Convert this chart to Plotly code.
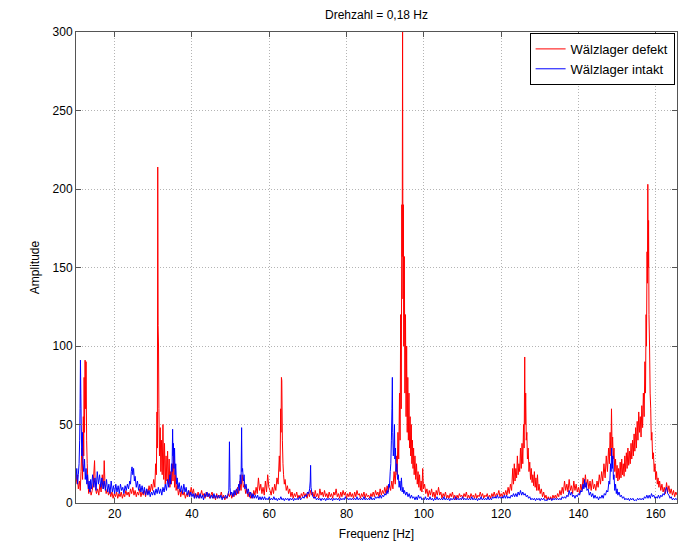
import plotly.graph_objects as go

# ---- data ----
title_text = "Drehzahl = 0,18 Hz"
x_label = "Frequenz [Hz]"
y_label = "Amplitude"
series_names = ["Wälzlager defekt", "Wälzlager intakt"]
x_ticks = [20, 40, 60, 80, 100, 120, 140, 160]
y_ticks = [0, 50, 100, 150, 200, 250, 300]

# (frequency [Hz], amplitude) for "Wälzlager defekt"
defekt_points = [
    (10.0, 12), (10.3, 18), (10.6, 9), (10.9, 14), (11.1, 8), (11.3, 20), (11.5, 35), (11.7, 15),
    (11.9, 55), (12.0, 30), (12.1, 80), (12.2, 45), (12.35, 91), (12.5, 60), (12.6, 90), (12.75, 40),
    (12.9, 25), (13.1, 12), (13.3, 6), (13.6, 10), (13.9, 5), (14.2, 8), (14.5, 14), (14.8, 27),
    (15.0, 10), (15.3, 6), (15.6, 9), (15.9, 5), (16.2, 12), (16.5, 7), (16.8, 18), (17.1, 9),
    (17.3, 27), (17.5, 12), (17.8, 6), (18.1, 9), (18.4, 5), (18.7, 8), (19.0, 4), (19.3, 7),
    (19.6, 3), (19.9, 6), (20.2, 4), (20.5, 7), (20.8, 3), (21.1, 6), (21.4, 4), (21.7, 7),
    (22.0, 3), (22.3, 6), (22.6, 4), (22.9, 8), (23.2, 5), (23.5, 7), (23.8, 4), (24.1, 9),
    (24.4, 6), (24.7, 10), (25.0, 5), (25.3, 8), (25.6, 4), (25.9, 7), (26.2, 5), (26.5, 9),
    (26.8, 4), (27.1, 7), (27.4, 5), (27.7, 8), (28.0, 4), (28.3, 9), (28.6, 6), (28.9, 11),
    (29.2, 7), (29.5, 12), (29.8, 8), (30.1, 15), (30.4, 10), (30.6, 25), (30.8, 18), (30.95, 58),
    (31.05, 35), (31.15, 214), (31.25, 113), (31.35, 100), (31.45, 60), (31.6, 30), (31.8, 48), (31.95, 20),
    (32.1, 40), (32.3, 18), (32.5, 50), (32.7, 15), (32.9, 38), (33.1, 12), (33.3, 30), (33.5, 14),
    (33.7, 33), (33.9, 12), (34.1, 28), (34.3, 10), (34.5, 20), (34.7, 12), (34.9, 25), (35.1, 14),
    (35.3, 30), (35.5, 10), (35.7, 18), (35.9, 8), (36.2, 12), (36.5, 5), (36.8, 9), (37.1, 4),
    (37.4, 8), (37.7, 5), (38.0, 7), (38.3, 3), (38.6, 6), (38.9, 4), (39.2, 8), (39.5, 5),
    (39.8, 10), (40.1, 6), (40.4, 9), (40.7, 3), (41.0, 6), (41.3, 4), (41.6, 7), (41.9, 3),
    (42.2, 5), (42.5, 8), (42.8, 4), (43.1, 6), (43.4, 3), (43.7, 7), (44.0, 4), (44.3, 6),
    (44.6, 3), (44.9, 5), (45.2, 7), (45.5, 3), (45.8, 5), (46.1, 2), (46.4, 6), (46.7, 3),
    (47.0, 5), (47.3, 4), (47.6, 7), (47.9, 3), (48.2, 5), (48.5, 2), (48.8, 4), (49.1, 3),
    (49.4, 6), (49.7, 4), (50.0, 7), (50.3, 3), (50.6, 6), (50.9, 4), (51.2, 8), (51.5, 5),
    (51.8, 10), (52.1, 6), (52.4, 14), (52.7, 8), (53.0, 18), (53.3, 10), (53.6, 12), (53.9, 6),
    (54.2, 9), (54.5, 4), (54.8, 7), (55.1, 3), (55.4, 6), (55.7, 3), (56.0, 8), (56.3, 5),
    (56.6, 10), (56.9, 6), (57.2, 16), (57.5, 8), (57.8, 12), (58.1, 6), (58.4, 10), (58.7, 5),
    (59.0, 14), (59.3, 7), (59.6, 18), (59.9, 10), (60.2, 8), (60.5, 5), (60.8, 10), (61.1, 6),
    (61.4, 12), (61.7, 8), (62.0, 16), (62.3, 12), (62.6, 30), (62.8, 20), (62.95, 60), (63.05, 45),
    (63.15, 80), (63.25, 78), (63.4, 40), (63.55, 25), (63.7, 18), (63.9, 12), (64.1, 15), (64.4, 8),
    (64.7, 11), (65.0, 6), (65.3, 9), (65.6, 4), (65.9, 7), (66.2, 3), (66.5, 6), (66.8, 4),
    (67.1, 7), (67.4, 3), (67.7, 5), (68.0, 3), (68.3, 6), (68.6, 4), (68.9, 7), (69.2, 4),
    (69.5, 6), (69.8, 3), (70.1, 7), (70.4, 4), (70.7, 8), (71.0, 5), (71.3, 7), (71.6, 3),
    (71.9, 8), (72.2, 4), (72.5, 6), (72.8, 3), (73.1, 9), (73.4, 5), (73.7, 7), (74.0, 4),
    (74.3, 8), (74.6, 4), (74.9, 6), (75.2, 3), (75.5, 7), (75.8, 4), (76.1, 6), (76.4, 3),
    (76.7, 7), (77.0, 5), (77.3, 9), (77.6, 4), (77.9, 6), (78.2, 3), (78.5, 7), (78.8, 4),
    (79.1, 8), (79.4, 5), (79.7, 7), (80.0, 3), (80.3, 6), (80.6, 4), (80.9, 7), (81.2, 4),
    (81.5, 6), (81.8, 3), (82.1, 7), (82.4, 4), (82.7, 8), (83.0, 5), (83.3, 6), (83.6, 3),
    (83.9, 6), (84.2, 4), (84.5, 7), (84.8, 3), (85.1, 6), (85.4, 4), (85.7, 5), (86.0, 3),
    (86.3, 6), (86.6, 4), (86.9, 7), (87.2, 4), (87.5, 8), (87.8, 5), (88.1, 7), (88.4, 4),
    (88.7, 9), (89.0, 5), (89.3, 8), (89.6, 6), (89.9, 10), (90.2, 6), (90.5, 11), (90.8, 7),
    (91.1, 12), (91.4, 8), (91.7, 14), (92.0, 9), (92.3, 20), (92.6, 12), (92.9, 30), (93.1, 18),
    (93.3, 45), (93.5, 28), (93.7, 70), (93.85, 40), (94.0, 120), (94.15, 60), (94.3, 190), (94.4, 157),
    (94.5, 300), (94.6, 130), (94.7, 190), (94.8, 100), (94.95, 157), (95.1, 70), (95.25, 120), (95.4, 55),
    (95.55, 100), (95.7, 45), (95.85, 80), (96.0, 40), (96.15, 70), (96.3, 35), (96.45, 55), (96.6, 30),
    (96.75, 50), (96.9, 25), (97.05, 40), (97.2, 22), (97.35, 35), (97.5, 18), (97.7, 30), (97.9, 15),
    (98.1, 25), (98.3, 12), (98.5, 20), (98.7, 10), (98.9, 18), (99.1, 8), (99.3, 14), (99.5, 7),
    (99.7, 22), (99.9, 9), (100.2, 12), (100.5, 6), (100.8, 9), (101.1, 4), (101.4, 8), (101.7, 5),
    (102.0, 9), (102.3, 4), (102.6, 7), (102.9, 3), (103.2, 8), (103.5, 5), (103.8, 10), (104.1, 5),
    (104.4, 7), (104.7, 3), (105.0, 6), (105.3, 4), (105.6, 7), (105.9, 3), (106.2, 5), (106.5, 3),
    (106.8, 6), (107.1, 4), (107.4, 7), (107.7, 3), (108.0, 5), (108.3, 2), (108.6, 5), (108.9, 3),
    (109.2, 6), (109.5, 4), (109.8, 5), (110.1, 3), (110.4, 6), (110.7, 4), (111.0, 7), (111.3, 3),
    (111.6, 5), (111.9, 3), (112.2, 6), (112.5, 4), (112.8, 5), (113.1, 3), (113.4, 6), (113.7, 3),
    (114.0, 5), (114.3, 4), (114.6, 7), (114.9, 4), (115.2, 6), (115.5, 3), (115.8, 5), (116.1, 4),
    (116.4, 6), (116.7, 3), (117.0, 5), (117.3, 3), (117.6, 6), (117.9, 4), (118.2, 7), (118.5, 4),
    (118.8, 6), (119.1, 5), (119.4, 8), (119.7, 4), (120.0, 6), (120.3, 4), (120.6, 7), (120.9, 5),
    (121.2, 8), (121.5, 5), (121.8, 10), (122.1, 6), (122.4, 12), (122.7, 8), (123.0, 22), (123.2, 12),
    (123.4, 25), (123.6, 14), (123.8, 22), (124.0, 16), (124.2, 30), (124.4, 18), (124.6, 25), (124.8, 20),
    (125.0, 35), (125.2, 22), (125.4, 38), (125.6, 25), (125.8, 50), (125.95, 35), (126.1, 93), (126.2, 50),
    (126.35, 70), (126.5, 40), (126.65, 45), (126.8, 28), (127.0, 35), (127.2, 20), (127.4, 26), (127.6, 15),
    (127.8, 22), (128.0, 13), (128.2, 18), (128.4, 11), (128.6, 20), (128.8, 10), (129.0, 16), (129.2, 8),
    (129.4, 18), (129.6, 8), (129.8, 12), (130.1, 6), (130.4, 9), (130.7, 4), (131.0, 7), (131.3, 3),
    (131.6, 5), (131.9, 2), (132.2, 4), (132.5, 2), (132.8, 4), (133.1, 2), (133.4, 5), (133.7, 3),
    (134.0, 5), (134.3, 3), (134.6, 6), (134.9, 4), (135.2, 8), (135.5, 5), (135.8, 10), (136.1, 6),
    (136.4, 14), (136.7, 8), (137.0, 12), (137.3, 7), (137.6, 15), (137.9, 8), (138.2, 11), (138.5, 6),
    (138.8, 14), (139.1, 8), (139.4, 12), (139.7, 7), (140.0, 10), (140.3, 6), (140.6, 12), (140.9, 8),
    (141.2, 16), (141.5, 10), (141.8, 18), (142.1, 10), (142.4, 15), (142.7, 9), (143.0, 14), (143.3, 8),
    (143.6, 15), (143.9, 9), (144.2, 12), (144.5, 8), (144.8, 14), (145.1, 10), (145.4, 18), (145.7, 12),
    (146.0, 20), (146.3, 14), (146.6, 25), (146.9, 16), (147.2, 30), (147.5, 20), (147.8, 35), (148.0, 25),
    (148.2, 45), (148.4, 30), (148.55, 60), (148.7, 35), (148.85, 42), (149.0, 28), (149.2, 35), (149.4, 20),
    (149.6, 28), (149.8, 16), (150.0, 24), (150.2, 14), (150.4, 22), (150.6, 15), (150.8, 26), (151.0, 16),
    (151.2, 28), (151.4, 18), (151.6, 25), (151.8, 17), (152.0, 30), (152.2, 20), (152.4, 32), (152.6, 22),
    (152.8, 35), (153.0, 24), (153.2, 33), (153.4, 25), (153.6, 38), (153.8, 28), (154.0, 40), (154.2, 30),
    (154.4, 44), (154.6, 33), (154.8, 48), (155.0, 35), (155.2, 52), (155.4, 40), (155.6, 58), (155.8, 45),
    (156.0, 55), (156.2, 42), (156.4, 62), (156.6, 48), (156.8, 70), (157.0, 55), (157.2, 90), (157.35, 70),
    (157.5, 120), (157.6, 100), (157.75, 160), (157.85, 140), (157.95, 203), (158.05, 150), (158.15, 180), (158.25, 120),
    (158.4, 100), (158.55, 70), (158.7, 60), (158.85, 40), (159.0, 45), (159.2, 28), (159.4, 32), (159.6, 20),
    (159.8, 25), (160.0, 15), (160.2, 20), (160.4, 12), (160.6, 16), (160.8, 10), (161.0, 14), (161.3, 8),
    (161.6, 12), (161.9, 7), (162.2, 10), (162.5, 6), (162.8, 13), (163.1, 7), (163.4, 11), (163.7, 6),
    (164.0, 9), (164.3, 5), (164.6, 8), (164.9, 4), (165.2, 7), (165.5, 5),
]

# (frequency [Hz], amplitude) for "Wälzlager intakt"
intakt_points = [
    (10.0, 15), (10.2, 22), (10.4, 12), (10.6, 18), (10.8, 25), (10.95, 40), (11.05, 60), (11.15, 91),
    (11.25, 70), (11.35, 50), (11.5, 30), (11.65, 45), (11.8, 25), (12.0, 20), (12.2, 28), (12.4, 15),
    (12.6, 22), (12.8, 12), (13.0, 18), (13.2, 9), (13.4, 14), (13.6, 7), (13.8, 15), (14.0, 9),
    (14.3, 18), (14.6, 10), (14.9, 16), (15.2, 8), (15.5, 20), (15.8, 12), (16.1, 18), (16.4, 10),
    (16.7, 16), (17.0, 9), (17.3, 14), (17.6, 8), (17.9, 15), (18.2, 7), (18.5, 12), (18.8, 6),
    (19.1, 14), (19.4, 7), (19.7, 11), (20.0, 6), (20.3, 12), (20.6, 7), (20.9, 11), (21.2, 6),
    (21.5, 12), (21.8, 8), (22.1, 10), (22.4, 6), (22.7, 11), (23.0, 8), (23.3, 12), (23.6, 9),
    (23.9, 14), (24.1, 12), (24.3, 20), (24.5, 23), (24.7, 18), (24.9, 22), (25.1, 14), (25.3, 17),
    (25.6, 10), (25.9, 14), (26.2, 8), (26.5, 12), (26.8, 7), (27.1, 11), (27.4, 6), (27.7, 10),
    (28.0, 5), (28.3, 9), (28.6, 5), (28.9, 8), (29.2, 4), (29.5, 7), (29.8, 5), (30.1, 8),
    (30.4, 5), (30.7, 9), (31.0, 6), (31.3, 10), (31.6, 6), (31.9, 9), (32.2, 5), (32.5, 10),
    (32.8, 7), (33.1, 12), (33.4, 8), (33.7, 15), (34.0, 10), (34.3, 18), (34.5, 12), (34.7, 25),
    (34.85, 20), (35.0, 47), (35.1, 30), (35.2, 38), (35.35, 22), (35.5, 35), (35.65, 18), (35.8, 25),
    (36.0, 12), (36.2, 16), (36.4, 9), (36.7, 13), (37.0, 7), (37.3, 11), (37.6, 6), (37.9, 12),
    (38.2, 7), (38.5, 10), (38.8, 5), (39.1, 8), (39.4, 4), (39.7, 7), (40.0, 4), (40.3, 6),
    (40.6, 3), (40.9, 6), (41.2, 3), (41.5, 5), (41.8, 3), (42.1, 6), (42.4, 3), (42.7, 5),
    (43.0, 2), (43.3, 6), (43.6, 4), (43.9, 7), (44.2, 4), (44.5, 6), (44.8, 3), (45.1, 5),
    (45.4, 3), (45.7, 6), (46.0, 3), (46.3, 5), (46.6, 3), (46.9, 5), (47.2, 3), (47.5, 5),
    (47.8, 2), (48.1, 4), (48.4, 3), (48.7, 5), (49.0, 3), (49.3, 5), (49.55, 8), (49.7, 39),
    (49.85, 10), (50.0, 5), (50.3, 7), (50.6, 4), (50.9, 8), (51.2, 5), (51.5, 9), (51.8, 6),
    (52.1, 12), (52.3, 8), (52.5, 18), (52.7, 12), (52.85, 48), (52.95, 20), (53.1, 22), (53.3, 14),
    (53.5, 18), (53.7, 9), (54.0, 12), (54.3, 6), (54.6, 9), (54.9, 4), (55.2, 7), (55.5, 3),
    (55.8, 6), (56.1, 3), (56.4, 5), (56.7, 3), (57.0, 5), (57.3, 2), (57.6, 4), (57.9, 2),
    (58.2, 4), (58.5, 2), (58.8, 4), (59.1, 2), (59.4, 3), (59.7, 2), (60.0, 4), (60.3, 2),
    (60.6, 3), (60.9, 2), (61.2, 4), (61.5, 2), (61.8, 3), (62.1, 1.5), (62.4, 3), (62.7, 2),
    (63.0, 4), (63.3, 2), (63.6, 3), (63.9, 1.5), (64.2, 3), (64.5, 2), (64.8, 3), (65.1, 1.5),
    (65.4, 3), (65.7, 2), (66.0, 3), (66.3, 1.5), (66.6, 3), (66.9, 2), (67.2, 3), (67.5, 2),
    (67.8, 4), (68.1, 2), (68.4, 3), (68.7, 4), (69.0, 3), (69.3, 5), (69.6, 4), (69.9, 7),
    (70.2, 6), (70.45, 9), (70.6, 14), (70.7, 24), (70.8, 10), (71.0, 7), (71.3, 4), (71.6, 3),
    (71.9, 4), (72.2, 2), (72.5, 3), (72.8, 2), (73.1, 3), (73.4, 1.5), (73.7, 3), (74.0, 2),
    (74.3, 3), (74.6, 1.5), (74.9, 3), (75.2, 2), (75.5, 3), (75.8, 2), (76.1, 3), (76.4, 1.5),
    (76.7, 3), (77.0, 2), (77.3, 3), (77.6, 2), (77.9, 3), (78.2, 1.5), (78.5, 3), (78.8, 2),
    (79.1, 3), (79.4, 2), (79.7, 4), (80.0, 2), (80.3, 3), (80.6, 2), (80.9, 3), (81.2, 2),
    (81.5, 3), (81.8, 2), (82.1, 3), (82.4, 2), (82.7, 4), (83.0, 2), (83.3, 3), (83.6, 2),
    (83.9, 3), (84.2, 2), (84.5, 4), (84.8, 2), (85.1, 3), (85.4, 2), (85.7, 3), (86.0, 2),
    (86.3, 4), (86.6, 2), (86.9, 3), (87.2, 2), (87.5, 4), (87.8, 3), (88.1, 4), (88.4, 3),
    (88.7, 5), (89.0, 3), (89.3, 5), (89.6, 4), (89.9, 6), (90.2, 5), (90.5, 8), (90.7, 6),
    (90.9, 12), (91.1, 10), (91.3, 20), (91.45, 25), (91.6, 40), (91.75, 60), (91.85, 80), (91.95, 45),
    (92.1, 30), (92.25, 35), (92.4, 50), (92.5, 28), (92.65, 35), (92.8, 20), (93.0, 25), (93.2, 15),
    (93.4, 18), (93.6, 10), (93.8, 14), (94.0, 8), (94.2, 16), (94.4, 7), (94.6, 10), (94.8, 6),
    (95.0, 8), (95.3, 5), (95.6, 7), (95.9, 4), (96.2, 6), (96.5, 3), (96.8, 5), (97.1, 3),
    (97.4, 4), (97.7, 2), (98.0, 4), (98.3, 2), (98.6, 5), (98.9, 3), (99.2, 4), (99.5, 2),
    (99.8, 3), (100.1, 2), (100.4, 4), (100.7, 2), (101.0, 3), (101.3, 2), (101.6, 4), (101.9, 2),
    (102.2, 3), (102.5, 1.5), (102.8, 3), (103.1, 2), (103.4, 4), (103.7, 2), (104.0, 3), (104.3, 2),
    (104.6, 3), (104.9, 2), (105.2, 4), (105.5, 2), (105.8, 3), (106.1, 2), (106.4, 3), (106.7, 1.5),
    (107.0, 3), (107.3, 2), (107.6, 3), (107.9, 2), (108.2, 4), (108.5, 2), (108.8, 3), (109.1, 2),
    (109.4, 3), (109.7, 2), (110.0, 4), (110.3, 2), (110.6, 3), (110.9, 2), (111.2, 3), (111.5, 2),
    (111.8, 3), (112.1, 2), (112.4, 4), (112.7, 2), (113.0, 3), (113.3, 2), (113.6, 3), (113.9, 1.5),
    (114.2, 3), (114.5, 2), (114.8, 4), (115.1, 2), (115.4, 3), (115.7, 2), (116.0, 3), (116.3, 2),
    (116.6, 4), (116.9, 2), (117.2, 3), (117.5, 2), (117.8, 4), (118.1, 3), (118.4, 4), (118.7, 3),
    (119.0, 5), (119.3, 3), (119.6, 4), (119.9, 3), (120.2, 4), (120.5, 3), (120.8, 5), (121.1, 3),
    (121.4, 5), (121.7, 3), (122.0, 4), (122.3, 3), (122.6, 5), (122.9, 4), (123.2, 6), (123.5, 4),
    (123.8, 6), (124.1, 4), (124.4, 7), (124.7, 5), (125.0, 8), (125.3, 5), (125.6, 7), (125.9, 5),
    (126.2, 6), (126.5, 4), (126.8, 5), (127.1, 3), (127.4, 4), (127.7, 2), (128.0, 3), (128.3, 2),
    (128.6, 3), (128.9, 1.5), (129.2, 3), (129.5, 2), (129.8, 3), (130.1, 1.5), (130.4, 3), (130.7, 2),
    (131.0, 3), (131.3, 1.5), (131.6, 2), (131.9, 1.5), (132.2, 3), (132.5, 2), (132.8, 3), (133.1, 1.5),
    (133.4, 3), (133.7, 2), (134.0, 3), (134.3, 2), (134.6, 3), (134.9, 2), (135.2, 3), (135.5, 2),
    (135.8, 4), (136.1, 3), (136.4, 4), (136.7, 3), (137.0, 5), (137.3, 4), (137.6, 8), (137.9, 5),
    (138.2, 7), (138.5, 4), (138.8, 5), (139.1, 3), (139.4, 5), (139.7, 4), (140.0, 6), (140.3, 5),
    (140.6, 8), (140.9, 7), (141.2, 12), (141.4, 9), (141.6, 15), (141.8, 10), (142.0, 13), (142.2, 8),
    (142.5, 9), (142.8, 5), (143.1, 7), (143.4, 4), (143.7, 6), (144.0, 3), (144.3, 5), (144.6, 3),
    (144.9, 4), (145.2, 2), (145.5, 4), (145.8, 3), (146.1, 5), (146.4, 3), (146.7, 6), (147.0, 5),
    (147.3, 8), (147.6, 7), (147.9, 14), (148.1, 12), (148.3, 25), (148.45, 20), (148.6, 35), (148.75, 22),
    (148.9, 30), (149.05, 15), (149.2, 18), (149.4, 8), (149.6, 12), (149.8, 6), (150.0, 9), (150.2, 5),
    (150.5, 7), (150.8, 4), (151.1, 5), (151.4, 3), (151.7, 4), (152.0, 2), (152.3, 3), (152.6, 2),
    (152.9, 3), (153.2, 1.5), (153.5, 3), (153.8, 2), (154.1, 3), (154.4, 1.5), (154.7, 2), (155.0, 1.5),
    (155.3, 3), (155.6, 2), (155.9, 3), (156.2, 2), (156.5, 3), (156.8, 2), (157.1, 4), (157.4, 3),
    (157.7, 5), (158.0, 3), (158.3, 5), (158.6, 3), (158.9, 6), (159.2, 4), (159.5, 5), (159.8, 3),
    (160.1, 4), (160.4, 3), (160.7, 5), (161.0, 3), (161.3, 5), (161.6, 4), (161.9, 6), (162.2, 5),
    (162.5, 8), (162.8, 10), (163.1, 6), (163.4, 5), (163.7, 3), (164.0, 4), (164.3, 2), (164.6, 3),
    (164.9, 2), (165.2, 3), (165.5, 2),
]

x_range = [10, 165.5]
y_range = [0, 300]

FONT = "Liberation Sans, Arial, sans-serif"
AXIS_COLOR = "#555555"
GRID_COLOR = "#b4b4b4"

fig = go.Figure()
fig.add_trace(go.Scatter(
    x=[p[0] for p in defekt_points], y=[p[1] for p in defekt_points],
    mode="lines", name=series_names[0],
    line=dict(color="#ff0000", width=1, simplify=False),
))
fig.add_trace(go.Scatter(
    x=[p[0] for p in intakt_points], y=[p[1] for p in intakt_points],
    mode="lines", name=series_names[1],
    line=dict(color="#0000ff", width=1, simplify=False),
))

axis_common = dict(
    showline=True, linecolor=AXIS_COLOR, linewidth=1, mirror="ticks",
    ticks="inside", ticklen=5, tickcolor=AXIS_COLOR, tickwidth=1,
    showgrid=True, gridcolor=GRID_COLOR, gridwidth=1, griddash="1px,2px",
    zeroline=False, automargin=False,
    tickfont=dict(family=FONT, size=12, color="#000000"),
)

fig.update_layout(
    width=686, height=542,
    margin=dict(l=76, r=9, t=32, b=39),
    paper_bgcolor="white", plot_bgcolor="white",
    title=dict(text=title_text, x=(76 + 677) / 2 / 686, xanchor="center",
               y=1 - 15 / 542, yanchor="middle", yref="container",
               font=dict(family=FONT, size=12, color="#000000")),
    xaxis=dict(range=x_range, tickvals=x_ticks, ticktext=[str(v) for v in x_ticks],
               title=dict(text=x_label, standoff=9, font=dict(family=FONT, size=12, color="#000000")),
               **axis_common),
    yaxis=dict(range=y_range, tickvals=y_ticks, ticktext=[str(v) for v in y_ticks],
               title=dict(text=y_label, standoff=10, font=dict(family=FONT, size=12, color="#000000")),
               **axis_common),
    legend=dict(x=0.996, xanchor="right", y=0.998, yanchor="top",
                bgcolor="white", bordercolor="#000000", borderwidth=1,
                font=dict(family=FONT, size=13, color="#000000"),
                itemwidth=30, tracegroupgap=0),
    showlegend=True,
)

fig.write_html("out.html")
